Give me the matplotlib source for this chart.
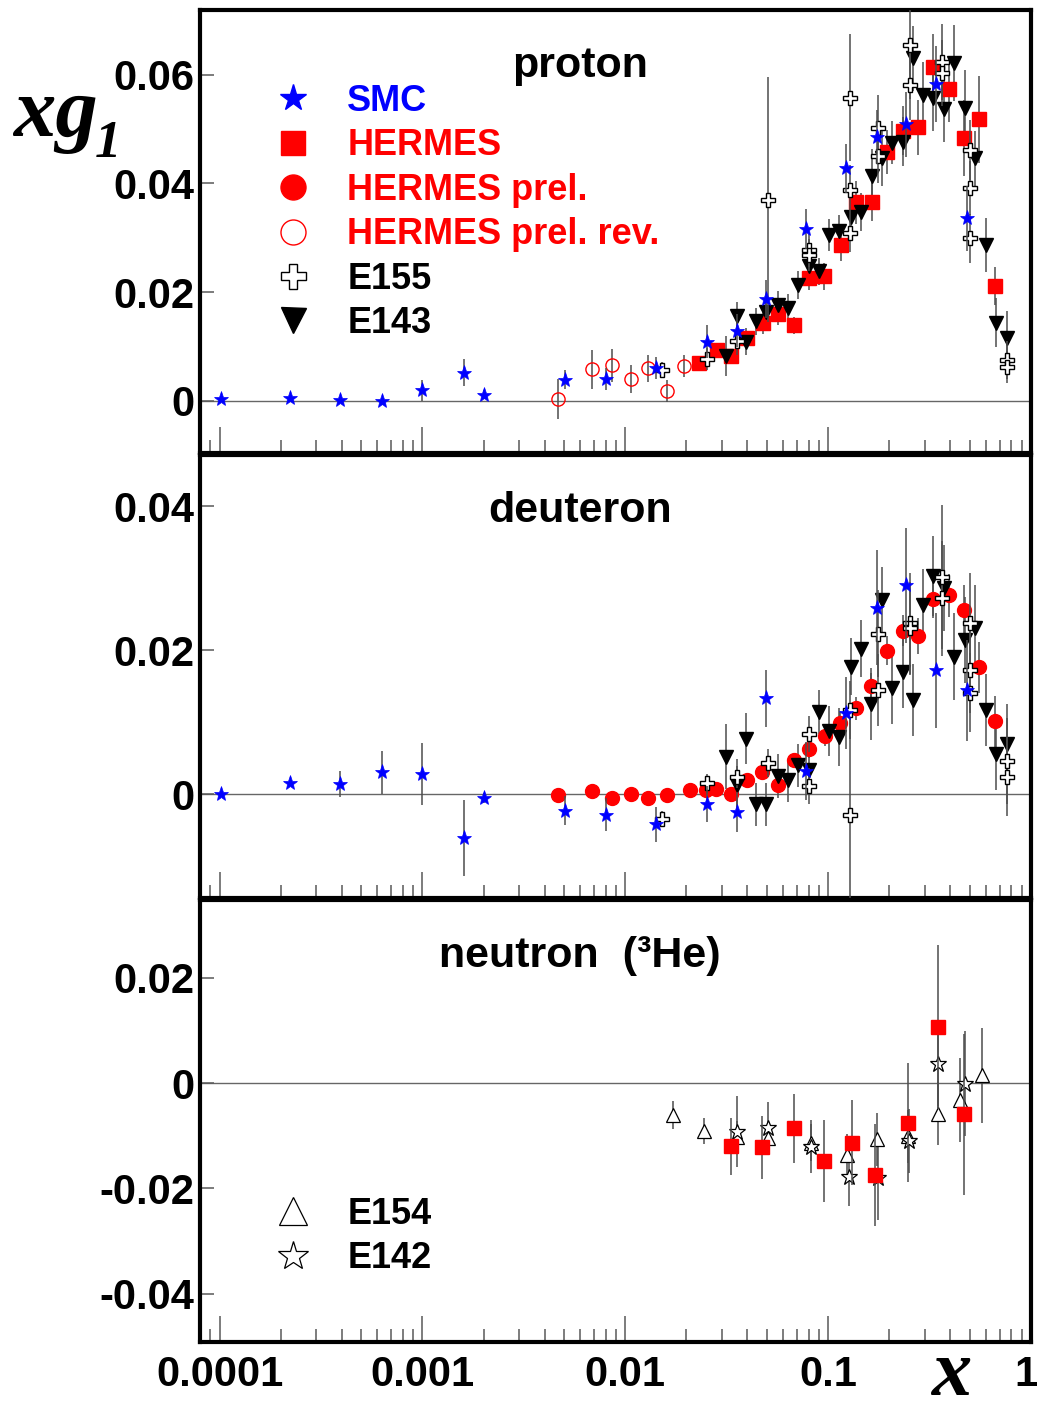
import matplotlib
matplotlib.use("Agg")
import matplotlib.pyplot as plt
from matplotlib.lines import Line2D
from matplotlib.ticker import FixedLocator, NullFormatter
from matplotlib.transforms import ScaledTranslation
import numpy as np

# ---------------- proton ----------------
smc_p_x = [1.01e-4, 2.22e-4, 3.94e-4, 6.32e-4, 1.0e-3, 1.61e-3, 2.02e-3, 5.06e-3, 8.05e-3, 0.0142,
           0.0254, 0.0355, 0.0495, 0.078, 0.1228, 0.174, 0.242, 0.340, 0.485]
smc_p_y = [0.0003, 0.0006, 0.0002, -0.0001, 0.0019, 0.0052, 0.0011, 0.0039, 0.0040, 0.0060,
           0.0109, 0.0129, 0.0187, 0.0316, 0.0428, 0.0485, 0.0509, 0.0583, 0.0336]
smc_p_e = [0.0003, 0.0004, 0.0005, 0.0007, 0.0020, 0.0025, 0.0008, 0.0018, 0.0020, 0.0020,
           0.0030, 0.0030, 0.0035, 0.0037, 0.0045, 0.0050, 0.0060, 0.0070, 0.0060]

her_p_x = [0.0232, 0.0283, 0.0333, 0.040, 0.0476, 0.0565, 0.0675, 0.0809, 0.0955, 0.116,
           0.1375, 0.164, 0.196, 0.233, 0.277, 0.330, 0.392, 0.468, 0.556, 0.667]
her_p_y = [0.0070, 0.0093, 0.0082, 0.0115, 0.0143, 0.0160, 0.0139, 0.0226, 0.0229, 0.0287,
           0.0365, 0.0365, 0.0458, 0.0497, 0.0503, 0.0614, 0.0573, 0.0483, 0.0518, 0.0212]
her_p_e = [0.0008, 0.0010, 0.0010, 0.0012, 0.0020, 0.0020, 0.0016, 0.0022, 0.0025, 0.0030,
           0.0040, 0.0035, 0.0040, 0.0045, 0.0050, 0.0060, 0.0060, 0.0070, 0.0080, 0.0035]

rev_p_x = [4.66e-3, 6.85e-3, 8.6e-3, 0.01066, 0.0130, 0.0160, 0.0195]
rev_p_y = [0.0003, 0.0058, 0.0065, 0.0040, 0.0060, 0.0018, 0.0064]
rev_p_e = [0.0037, 0.0036, 0.0030, 0.0026, 0.0025, 0.0020, 0.0020]

e155_p_x = [0.0151, 0.0254, 0.0355, 0.0505, 0.0809, 0.0809, 0.128, 0.128, 0.128, 0.1755,
            0.1755, 0.253, 0.253, 0.363, 0.363, 0.501, 0.501, 0.501, 0.759, 0.759]
e155_p_y = [0.0057, 0.0077, 0.0110, 0.0370, 0.0277, 0.0268, 0.0309, 0.0388, 0.0558, 0.0450,
            0.0502, 0.0655, 0.0581, 0.0624, 0.0603, 0.0462, 0.0391, 0.0299, 0.0075, 0.0062]
e155_p_e = [0.0015, 0.0020, 0.0025, 0.0225, 0.0030, 0.0030, 0.0035, 0.0045, 0.0116, 0.0050,
            0.0060, 0.0100, 0.0065, 0.0070, 0.0060, 0.0055, 0.0050, 0.0045, 0.0035, 0.0030]

e143_p_x = [0.0315, 0.0355, 0.0394, 0.0442, 0.0495, 0.0563, 0.0637, 0.0714, 0.080, 0.0906,
            0.1015, 0.1137, 0.129, 0.1455, 0.164, 0.1837, 0.2075, 0.233, 0.261, 0.295,
            0.330, 0.372, 0.418, 0.473, 0.530, 0.598, 0.673, 0.759]
e143_p_y = [0.0082, 0.0156, 0.0109, 0.0146, 0.0163, 0.0177, 0.0171, 0.0213, 0.0248, 0.0238,
            0.0305, 0.0312, 0.0339, 0.0348, 0.0414, 0.0446, 0.0475, 0.0477, 0.0630, 0.0563,
            0.0557, 0.0537, 0.0621, 0.0539, 0.0446, 0.0287, 0.0144, 0.0115]
e143_p_e = [0.0037, 0.0025, 0.0025, 0.0025, 0.0030, 0.0025, 0.0025, 0.0025, 0.0025, 0.0025,
            0.0030, 0.0030, 0.0035, 0.0035, 0.0050, 0.0050, 0.0040, 0.0045, 0.0060, 0.0060,
            0.0060, 0.0060, 0.0070, 0.0070, 0.0050, 0.0050, 0.0045, 0.0050]

# ---------------- deuteron ----------------
smc_d_x = smc_p_x
smc_d_y = [0.0, 0.0015, 0.0014, 0.0030, 0.0028, -0.0061, -0.0005, -0.0023, -0.0029, -0.0042,
           -0.0014, -0.0025, 0.0133, 0.0032, 0.0112, 0.0259, 0.0290, 0.0172, 0.0144]
smc_d_e = [0.0002, 0.0004, 0.0018, 0.0030, 0.0043, 0.0053, 0.0007, 0.0020, 0.0023, 0.0024,
           0.0025, 0.0028, 0.0040, 0.0040, 0.0050, 0.0080, 0.0080, 0.0080, 0.0070]

prel_d_x = [4.66e-3, 6.85e-3, 8.6e-3, 0.01066, 0.0130, 0.0160, 0.0208, 0.0251, 0.0281, 0.0333,
            0.0398, 0.0474, 0.0565, 0.0675, 0.0809, 0.0966, 0.1146, 0.1375, 0.163, 0.195,
            0.233, 0.276, 0.328, 0.395, 0.468, 0.556, 0.667]
prel_d_y = [-0.0002, 0.0004, -0.0005, 0.0, -0.0005, -0.0002, 0.0005, 0.0005, 0.0007, 0.0,
            0.0019, 0.0030, 0.0013, 0.0047, 0.0062, 0.0080, 0.0099, 0.0119, 0.0150, 0.0199,
            0.0227, 0.0220, 0.0271, 0.0276, 0.0256, 0.0176, 0.0101]
prel_d_e = [0.0005, 0.0007, 0.0007, 0.0006, 0.0005, 0.0005, 0.0005, 0.0006, 0.0006, 0.0006,
            0.0008, 0.0009, 0.0010, 0.0010, 0.0012, 0.0013, 0.0015, 0.0016, 0.0018, 0.0020,
            0.0022, 0.0025, 0.0027, 0.0030, 0.0035, 0.0035, 0.0035]

e155_d_x = [0.0151, 0.0254, 0.0355, 0.0505, 0.0809, 0.0809, 0.128, 0.128, 0.1755, 0.1755,
            0.253, 0.253, 0.363, 0.363, 0.501, 0.501, 0.501, 0.759, 0.759]
e155_d_y = [-0.0034, 0.0015, 0.0024, 0.0043, 0.0083, 0.0011, 0.0117, -0.0029, 0.0223, 0.0144,
            0.0237, 0.0230, 0.0302, 0.0272, 0.0237, 0.0172, 0.0141, 0.0046, 0.0024]
e155_d_e = [0.0010, 0.0013, 0.0015, 0.0020, 0.0025, 0.0025, 0.0040, 0.0143, 0.0060, 0.0050,
            0.0070, 0.0065, 0.0100, 0.0080, 0.0070, 0.0060, 0.0055, 0.0060, 0.0055]

e143_d_x = [0.0315, 0.0355, 0.0394, 0.0442, 0.0495, 0.0563, 0.0637, 0.0714, 0.080, 0.0906,
            0.1015, 0.1137, 0.129, 0.1455, 0.163, 0.1837, 0.2075, 0.233, 0.261, 0.295,
            0.330, 0.372, 0.418, 0.473, 0.530, 0.598, 0.673, 0.759]
e143_d_y = [0.0052, 0.0013, 0.0077, -0.0014, -0.0014, 0.0025, 0.0019, 0.0040, 0.0034, 0.0114,
            0.0088, 0.0079, 0.0177, 0.0202, 0.0125, 0.0270, 0.0147, 0.0169, 0.0131, 0.0263,
            0.0303, 0.0286, 0.0191, 0.0214, 0.0230, 0.0117, 0.0056, 0.0070]
e143_d_e = [0.0045, 0.0035, 0.0035, 0.0030, 0.0030, 0.0030, 0.0030, 0.0030, 0.0030, 0.0030,
            0.0035, 0.0040, 0.0040, 0.0040, 0.0050, 0.0045, 0.0050, 0.0050, 0.0050, 0.0050,
            0.0055, 0.0060, 0.0060, 0.0060, 0.0060, 0.0050, 0.0050, 0.0055]

# ---------------- neutron (3He) ----------------
e154_n_x = [0.0172, 0.0243, 0.0355, 0.0505, 0.0822, 0.1245, 0.175, 0.2466, 0.346, 0.447, 0.571]
e154_n_y = [-0.0061, -0.0091, -0.0102, -0.0104, -0.0113, -0.0136, -0.0107, -0.0101, -0.0058, -0.0032, 0.0015]
e154_n_e = [0.0027, 0.0025, 0.0030, 0.0030, 0.0035, 0.0040, 0.0050, 0.0050, 0.0060, 0.0080, 0.0090]

e142_n_x = [0.0355, 0.0505, 0.0822, 0.127, 0.177, 0.249, 0.347, 0.473]
e142_n_y = [-0.0092, -0.0086, -0.0121, -0.0179, -0.0181, -0.0110, 0.0037, -0.0001]
e142_n_e = [0.0068, 0.0050, 0.0050, 0.0055, 0.0080, 0.0060, 0.0080, 0.0100]

her_n_x = [0.0333, 0.0474, 0.068, 0.0959, 0.131, 0.1705, 0.2466, 0.346, 0.468]
her_n_y = [-0.0120, -0.0122, -0.0086, -0.0148, -0.0113, -0.0175, -0.0075, 0.0106, -0.0059]
her_n_e = [0.0054, 0.0060, 0.0065, 0.0077, 0.0080, 0.0097, 0.0113, 0.0156, 0.0153]

x_ticks = [1e-4, 1e-3, 1e-2, 1e-1, 1.0]
x_labels = ["0.0001", "0.001", "0.01", "0.1", "1"]
p_ticks = [0, 0.02, 0.04, 0.06]
d_ticks = [0, 0.02, 0.04]
n_ticks = [-0.04, -0.02, 0, 0.02]

SANS = "Liberation Sans"
SERIF = "Liberation Serif"
BLUE = "#0000ff"
RED = "#ff0000"
EC = "0.3"

plt.rcParams["font.family"] = SANS
plt.rcParams["font.weight"] = "bold"

W, H = 1037, 1413
fig = plt.figure(figsize=(W / 100, H / 100), dpi=100)


def frame(ax, ylim, yticks, show_x):
    ax.set_xscale("log")
    ax.set_xlim(8e-5, 1.0)
    ax.set_ylim(*ylim)
    ax.axhline(0, color="0.4", lw=1.0, zorder=0)
    for s in ax.spines.values():
        s.set_linewidth(3.0)
    ax.set_yticks(yticks)
    ax.set_yticklabels([("%g" % t) if t != 0 else "0" for t in yticks])
    ax.tick_params(axis="y", which="both", direction="in", length=10, width=1.1,
                   color="0.35", labelsize=30, pad=4, right=False)
    minors = [m * 10.0 ** d for d in range(-5, 0) for m in range(2, 10)]
    ax.xaxis.set_major_locator(FixedLocator(x_ticks))
    ax.xaxis.set_minor_locator(FixedLocator(minors))
    ax.xaxis.set_minor_formatter(NullFormatter())
    ax.tick_params(axis="x", which="major", direction="in", length=19, width=1.1,
                   color="0.35", labelsize=30, pad=9, top=False)
    ax.tick_params(axis="x", which="minor", direction="in", length=9.5, width=1.1,
                   color="0.35", top=False)
    if show_x:
        ax.set_xticklabels(x_labels)
        # keep the last label ("1") inside the canvas
        last = ax.get_xticklabels()[-1]
        last.set_transform(last.get_transform() + ScaledTranslation(-5 / 100, 0, fig.dpi_scale_trans))
    else:
        ax.set_xticklabels([])
    for lab in ax.get_yticklabels() + ax.get_xticklabels():
        lab.set_fontweight("bold")


def pts(ax, x, y, e, marker, ms, fc, mec, mew=1.0, z=3):
    ax.errorbar(x, y, yerr=e, fmt=marker, ms=ms, mfc=fc, mec=mec, mew=mew,
                ecolor=EC, elinewidth=1.1, capsize=0, ls="none", zorder=z)


left = 200 / W
width = 831 / W
ax_p = fig.add_axes([left, 1 - 453 / H, width, 443 / H])
ax_d = fig.add_axes([left, 1 - 898 / H, width, 443 / H])
ax_n = fig.add_axes([left, 1 - 1342 / H, width, 442 / H])

frame(ax_p, (-0.0096, 0.0719), p_ticks, False)
frame(ax_d, (-0.01444, 0.0471), d_ticks, False)
frame(ax_n, (-0.0492, 0.0348), n_ticks, True)

# proton
pts(ax_p, rev_p_x, rev_p_y, rev_p_e, "o", 9.5, "none", RED, 1.0)
pts(ax_p, her_p_x, her_p_y, her_p_e, "s", 9.5, RED, RED)
pts(ax_p, e143_p_x, e143_p_y, e143_p_e, "v", 10, "black", "black")
pts(ax_p, e155_p_x, e155_p_y, e155_p_e, "P", 10, "white", "black", 1.0, 4)
pts(ax_p, smc_p_x, smc_p_y, smc_p_e, "*", 11, BLUE, BLUE, 0.5, 5)

# deuteron
pts(ax_d, prel_d_x, prel_d_y, prel_d_e, "o", 10, RED, RED)
pts(ax_d, e143_d_x, e143_d_y, e143_d_e, "v", 10, "black", "black")
pts(ax_d, e155_d_x, e155_d_y, e155_d_e, "P", 10, "white", "black", 1.0, 4)
pts(ax_d, smc_d_x, smc_d_y, smc_d_e, "*", 11, BLUE, BLUE, 0.5, 5)

# neutron
pts(ax_n, e154_n_x, e154_n_y, e154_n_e, "^", 10, "white", "black", 0.9)
pts(ax_n, e142_n_x, e142_n_y, e142_n_e, "*", 12, "white", "black", 0.9)
pts(ax_n, her_n_x, her_n_y, her_n_e, "s", 9.5, RED, RED, 1.0, 5)

# titles
ax_p.text(0.457, 0.874, "proton", transform=ax_p.transAxes, ha="center", va="center",
          fontsize=31, fontweight="bold")
ax_d.text(0.457, 0.874, "deuteron", transform=ax_d.transAxes, ha="center", va="center",
          fontsize=31, fontweight="bold")
ax_n.text(0.457, 0.873, "neutron  (\u00b3He)", transform=ax_n.transAxes, ha="center",
          va="center", fontsize=31, fontweight="bold")

# legends
hp = [
    Line2D([], [], ls="none", marker="*", ms=20, mfc=BLUE, mec=BLUE),
    Line2D([], [], ls="none", marker="s", ms=17, mfc=RED, mec=RED),
    Line2D([], [], ls="none", marker="o", ms=18, mfc=RED, mec=RED),
    Line2D([], [], ls="none", marker="o", ms=18, mfc="none", mec=RED, mew=1.0),
    Line2D([], [], ls="none", marker="P", ms=18, mfc="white", mec="black", mew=1.0),
    Line2D([], [], ls="none", marker="v", ms=18, mfc="black", mec="black"),
]
lp = ["SMC", "HERMES", "HERMES prel.", "HERMES prel. rev.", "E155", "E143"]
ax_p.legend(hp, lp, loc="upper left", bbox_to_anchor=(275 / W, 1 - 84 / H),
            bbox_transform=fig.transFigure, frameon=False, borderpad=0,
            borderaxespad=0, handlelength=1.0, handletextpad=1.0, labelspacing=0.26,
            prop={"family": SANS, "weight": "bold", "size": 26},
            labelcolor=[BLUE, RED, RED, RED, "black", "black"])

hn = [
    Line2D([], [], ls="none", marker="^", ms=20, mfc="white", mec="black", mew=0.9),
    Line2D([], [], ls="none", marker="*", ms=22, mfc="white", mec="black", mew=0.9),
]
ax_n.legend(hn, ["E154", "E142"], loc="upper left", bbox_to_anchor=(275 / W, 1 - 1197 / H),
            bbox_transform=fig.transFigure, frameon=False, borderpad=0, borderaxespad=0,
            handlelength=1.0, handletextpad=1.0, labelspacing=0.26,
            prop={"family": SANS, "weight": "bold", "size": 26})

# axis titles
fig.text(13 / W, 1 - 136 / H, "xg", family=SERIF, style="italic", fontweight="bold",
         fontsize=61, ha="left", va="baseline")
fig.text(95 / W, 1 - 157 / H, "1", family=SERIF, style="italic", fontweight="bold",
         fontsize=38, ha="left", va="baseline")
fig.text(952 / W, 1 - 1412 / H, "x", family=SERIF, style="italic", fontweight="bold",
         fontsize=58, ha="center", va="bottom")

fig.savefig("out.png", dpi=100)
